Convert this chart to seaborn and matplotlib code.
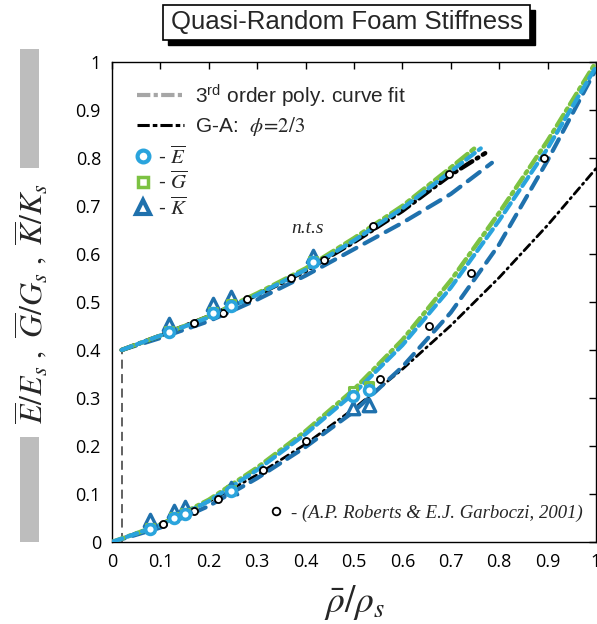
import matplotlib
matplotlib.use("Agg")
import numpy as np
import pandas as pd
import seaborn as sns
import matplotlib.pyplot as plt
from matplotlib.lines import Line2D
from matplotlib.patches import Rectangle

# ---------------- data ----------------
x_ticks = [0, 0.1, 0.2, 0.3, 0.4, 0.5, 0.6, 0.7, 0.8, 0.9, 1.0]
tick_labels = ["0", "0.1", "0.2", "0.3", "0.4", "0.5", "0.6", "0.7", "0.8", "0.9", "1"]

# lower group (to scale): 3rd order poly fits and Gibson-Ashby
x_low = [0.0, 0.1, 0.2, 0.3, 0.4, 0.5, 0.6, 0.7, 0.8, 0.9, 1.0]
E_fit_low = [0.0, 0.035, 0.085, 0.150, 0.225, 0.310, 0.410, 0.530, 0.670, 0.820, 0.990]
G_fit_low = [0.0, 0.036, 0.088, 0.155, 0.231, 0.318, 0.421, 0.545, 0.686, 0.836, 1.000]
K_fit_low = [0.0, 0.030, 0.075, 0.133, 0.198, 0.272, 0.365, 0.478, 0.620, 0.795, 0.985]
GA_low = [0.0, 0.038, 0.084, 0.140, 0.204, 0.278, 0.360, 0.451, 0.551, 0.660, 0.778]

# upper group (n.t.s)
x_E_up = [0.02, 0.1, 0.2, 0.3, 0.4, 0.5, 0.6, 0.7, 0.762]
E_fit_up = [0.40, 0.430, 0.468, 0.515, 0.567, 0.628, 0.695, 0.772, 0.820]
x_G_up = [0.02, 0.1, 0.2, 0.3, 0.4, 0.5, 0.6, 0.7, 0.755]
G_fit_up = [0.40, 0.430, 0.470, 0.518, 0.570, 0.633, 0.700, 0.780, 0.825]
x_K_up = [0.02, 0.1, 0.2, 0.3, 0.4, 0.5, 0.6, 0.7, 0.785]
K_fit_up = [0.40, 0.425, 0.460, 0.505, 0.555, 0.610, 0.665, 0.725, 0.790]
x_GA_up = [0.02, 0.1, 0.2, 0.3, 0.4, 0.5, 0.6, 0.7, 0.771]
GA_up = [0.40, 0.430, 0.470, 0.515, 0.565, 0.625, 0.690, 0.765, 0.810]

# simulation points
x_pts_low = [0.078, 0.128, 0.151, 0.245, 0.497, 0.530]
E_pts_low = [0.028, 0.050, 0.058, 0.107, 0.304, 0.316]
G_pts_low = [0.030, 0.052, 0.060, 0.108, 0.315, 0.325]
K_pts_low = [0.045, 0.065, 0.072, 0.112, 0.279, 0.285]
x_pts_up = [0.118, 0.208, 0.245, 0.415]
E_pts_up = [0.4375, 0.477, 0.492, 0.583]
G_pts_up = [0.440, 0.480, 0.495, 0.585]
K_pts_up = [0.455, 0.495, 0.510, 0.595]

# Roberts & Garboczi (2001)
x_rg_low = [0.105, 0.169, 0.218, 0.313, 0.400, 0.553, 0.654, 0.742, 0.893]
y_rg_low = [0.0375, 0.065, 0.090, 0.150, 0.210, 0.340, 0.450, 0.560, 0.800]
x_rg_up = [0.169, 0.229, 0.278, 0.369, 0.439, 0.540, 0.697]
y_rg_up = [0.456, 0.477, 0.506, 0.550, 0.587, 0.658, 0.767]

nts_x = 0.02
nts_y = 0.40

C_E = "#2aa4dd"
C_G = "#7cc242"
C_K = "#1f71ad"
C_GRAY = "#a6a6a6"

# ---------------- figure ----------------
sns.set_style("white")
plt.rcParams["font.family"] = ["Liberation Sans", "DejaVu Sans"]
plt.rcParams["mathtext.fontset"] = "stix"

fig = plt.figure(figsize=(5.97, 6.24), dpi=100)
ax = fig.add_axes([112 / 597, 1 - 542 / 624, 484 / 597, 480 / 624])


def fit_line(x, y, color, lw, dash, z):
    sns.lineplot(x=x, y=y, ax=ax, color=color, linewidth=lw, linestyle=(0, dash),
                 zorder=z, estimator=None, sort=False, dash_capstyle="round")


# lower group
fit_line(x_low, GA_low, "black", 2.0, (3.0, 1.6, 0.6, 1.6), 2)
fit_line(x_low, K_fit_low, C_K, 3.0, (3.2, 2.0), 3)
fit_line(x_low, E_fit_low, C_E, 3.0, (2.6, 1.2), 4)
fit_line(x_low, G_fit_low, C_G, 3.2, (2.8, 1.1, 0.6, 1.1), 3.5)

# upper group
fit_line(x_K_up, K_fit_up, C_K, 3.0, (3.6, 2.2), 3)
fit_line(x_GA_up, GA_up, "black", 3.2, (3.0, 1.2, 0.4, 1.2), 3.2)
fit_line(x_G_up, G_fit_up, C_G, 3.2, (3.2, 1.1, 0.8, 1.1), 3.4)
fit_line(x_E_up, E_fit_up, C_E, 3.0, (2.6, 1.2), 3.6)

# n.t.s offset guide
ax.vlines(nts_x, 0, nts_y, colors="#555555", linestyles=(0, (5, 3)), linewidth=1.3, zorder=1)

# Roberts & Garboczi points
for xs, ys in [(x_rg_low, y_rg_low), (x_rg_up, y_rg_up)]:
    sns.scatterplot(x=xs, y=ys, ax=ax, marker="o", s=26, color="white",
                    edgecolor="black", linewidth=1.3, zorder=5)

# simulation points
for xs, e, g, k in [(x_pts_low, E_pts_low, G_pts_low, K_pts_low),
                    (x_pts_up, E_pts_up, G_pts_up, K_pts_up)]:
    sns.scatterplot(x=xs, y=k, ax=ax, marker="^", s=80, color="white",
                    edgecolor=C_K, linewidth=2.4, zorder=6)
    sns.scatterplot(x=xs, y=g, ax=ax, marker="s", s=40, color="white",
                    edgecolor=C_G, linewidth=2.2, zorder=7)
    sns.scatterplot(x=xs, y=e, ax=ax, marker="o", s=50, color="white",
                    edgecolor=C_E, linewidth=2.6, zorder=8)

# axes styling
ax.set_xlim(0, 1)
ax.set_ylim(0, 1)
ax.set_xticks(x_ticks)
ax.set_yticks(x_ticks)
ax.set_xticklabels(tick_labels)
ax.set_yticklabels(tick_labels)
ax.tick_params(direction="in", length=5, width=1, top=True, right=True,
               labelsize=13, pad=8, colors="black")
for lab in ax.get_xticklabels() + ax.get_yticklabels():
    lab.set_family(["Open Sans", "DejaVu Sans"])
for sp in ax.spines.values():
    sp.set_color("black")
    sp.set_linewidth(1.0)

ax.set_ylabel(r"$\overline{E}/E_s\ ,\ \overline{G}/G_s\ ,\ \overline{K}/K_s$",
              fontsize=23, va="center")
ax.yaxis.set_label_coords((31 - 112) / 484, (542 - 303) / 480)
ax.set_xlabel(r"$\bar{\rho}/\rho_s$", fontsize=27, va="center")
ax.xaxis.set_label_coords((355 - 112) / 484, (542 - 603) / 480)

ax.text(0.405, 0.654, "n.t.s", fontsize=14, style="italic",
        family=["Liberation Serif", "DejaVu Serif"], ha="center", va="center")

# legends
line_handles = [
    Line2D([], [], color=C_GRAY, lw=3, linestyle=(0, (3.2, 0.8, 1.0, 0.8))),
    Line2D([], [], color="black", lw=2.2, linestyle=(0, (4.0, 1.0, 1.5, 1.0))),
]
line_labels = [r"3$^{\mathdefault{rd}}$ order poly. curve fit",
               r"G-A:  $\phi\!=\!\mathit{2/3}$"]
leg1 = ax.legend(line_handles, line_labels, loc="upper left",
                 bbox_to_anchor=((137 - 112) / 484, (542 - 82) / 480),
                 frameon=False, fontsize=15, handlelength=2.25, handletextpad=0.55,
                 labelspacing=0.3, borderpad=0, borderaxespad=0)
ax.add_artist(leg1)

mk_handles = [
    Line2D([], [], ls="none", marker="o", ms=8.5, mfc="white", mec=C_E, mew=3),
    Line2D([], [], ls="none", marker="s", ms=7, mfc="white", mec=C_G, mew=2.5),
    Line2D([], [], ls="none", marker="^", ms=10, mfc="white", mec=C_K, mew=3),
]
mk_labels = [r"- $\overline{E}$", r"- $\overline{G}$", r"- $\overline{K}$"]
leg2 = ax.legend(mk_handles, mk_labels, loc="upper left",
                 bbox_to_anchor=((133 - 112) / 484, (542 - 145) / 480),
                 frameon=False, fontsize=15, handlelength=1.0, handletextpad=0.2,
                 labelspacing=0.15, borderpad=0, borderaxespad=0)
ax.add_artist(leg2)

rg_handle = [Line2D([], [], ls="none", marker="o", ms=5.5, mfc="white", mec="black", mew=1.3)]
leg3 = ax.legend(rg_handle, ["- (A.P. Roberts & E.J. Garboczi, 2001)"], loc="center left",
                 bbox_to_anchor=((268 - 112) / 484, 0.06), frameon=False,
                 prop={"family": ["Liberation Serif", "DejaVu Serif"], "style": "italic", "size": 13.5},
                 handlelength=0.9, handletextpad=0.35, borderpad=0, borderaxespad=0)

# title box with shadow
fig.patches.append(Rectangle((168 / 597, 1 - 45 / 624), 367 / 597, 35 / 624,
                             transform=fig.transFigure, facecolor="black",
                             edgecolor="black", zorder=1))
fig.patches.append(Rectangle((163 / 597, 1 - 40 / 624), 367 / 597, 35 / 624,
                             transform=fig.transFigure, facecolor="white",
                             edgecolor="black", linewidth=1.2, zorder=2))
fig.text(346.5 / 597, 1 - 22.5 / 624, "Quasi-Random Foam Stiffness", ha="center",
         va="center", fontsize=18.5, zorder=3)

# grey side bars
fig.patches.append(Rectangle((20 / 597, 1 - 168 / 624), 19 / 597, 119 / 624,
                             transform=fig.transFigure, facecolor="#bdbdbd",
                             edgecolor="none"))
fig.patches.append(Rectangle((20 / 597, 1 - 542 / 624), 19 / 597, 105 / 624,
                             transform=fig.transFigure, facecolor="#bdbdbd",
                             edgecolor="none"))

fig.savefig("out.png", dpi=100)
